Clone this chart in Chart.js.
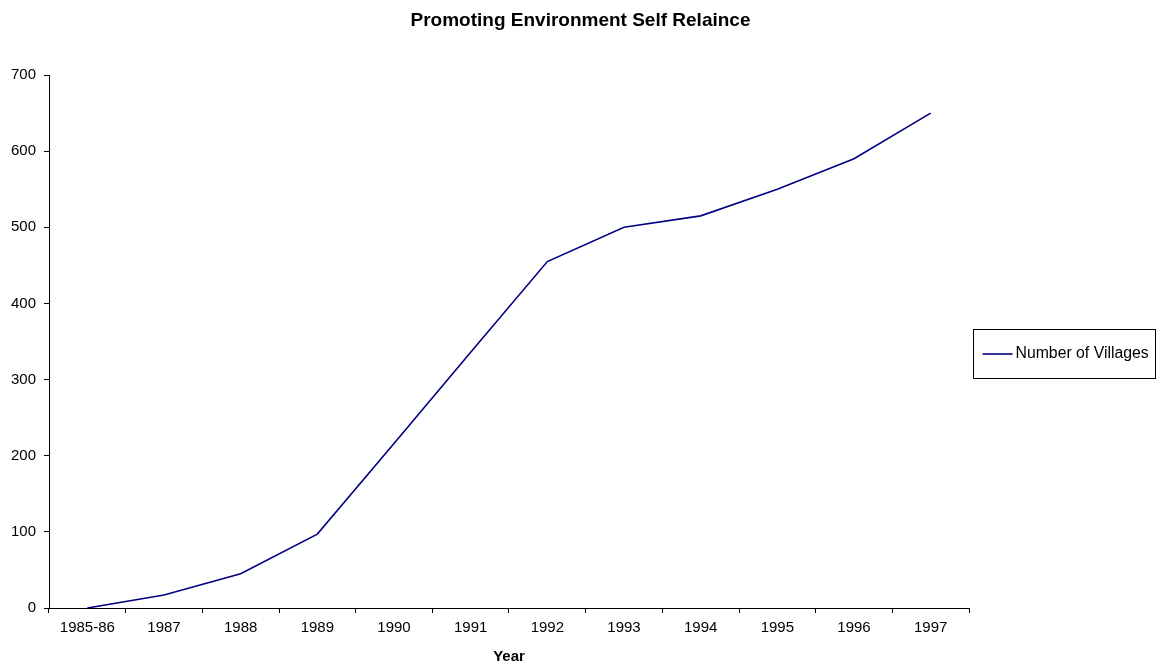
<!DOCTYPE html>
<html>
<head>
<meta charset="utf-8">
<script src="https://cdn.jsdelivr.net/npm/chart.js@4"></script>
<style>
  html, body { margin: 0; padding: 0; background: #fff; }
  #wrap { width: 1161px; height: 666px; position: relative; }
</style>
</head>
<body>
<div id="wrap"><canvas id="c" width="1161" height="666"></canvas></div>
<script>
const chartTitle = 'Promoting Environment Self Relaince';
const xAxisTitle = 'Year';
const categories = ['1985-86', '1987', '1988', '1989', '1990', '1991', '1992', '1993', '1994', '1995', '1996', '1997'];
const seriesName = 'Number of Villages';
const villages = [0, 17, 45, 97, 216, 336, 455, 500, 515, 550, 590, 650];
const yTicks = [0, 100, 200, 300, 400, 500, 600, 700];

Chart.defaults.font.family = "'Liberation Sans', Arial, sans-serif";
Chart.defaults.color = '#000';

const boxLegend = {
  id: 'boxLegend',
  afterDraw(chart) {
    const ctx = chart.ctx;
    const ds = chart.data.datasets[0];
    const area = chart.chartArea;
    const x = Math.round(area.right) + 4.5;
    const y = 329.5;
    const w = 182, h = 49;
    ctx.save();
    ctx.fillStyle = '#fff';
    ctx.fillRect(x, y, w, h);
    ctx.strokeStyle = '#000';
    ctx.lineWidth = 1;
    ctx.strokeRect(x, y, w, h);
    const cy = y + h / 2;
    ctx.strokeStyle = ds.borderColor;
    ctx.lineWidth = ds.borderWidth;
    ctx.beginPath();
    ctx.moveTo(x + 9, cy);
    ctx.lineTo(x + 39, cy);
    ctx.stroke();
    ctx.fillStyle = '#000';
    ctx.font = "15.8px 'Liberation Sans', Arial, sans-serif";
    ctx.textAlign = 'left';
    ctx.textBaseline = 'middle';
    ctx.fillText(ds.label, x + 42, cy);
    ctx.restore();
  }
};

new Chart(document.getElementById('c'), {
  type: 'line',
  data: {
    labels: categories,
    datasets: [{
      label: seriesName,
      data: villages,
      borderColor: '#000080',
      backgroundColor: '#000080',
      borderWidth: 1.6,
      pointRadius: 0,
      pointHoverRadius: 0,
      tension: 0,
      fill: false
    }]
  },
  options: {
    responsive: false,
    animation: false,
    devicePixelRatio: 1,
    layout: { padding: { top: 0, left: 0, right: 0, bottom: 0 } },
    plugins: {
      legend: { display: false },
      tooltip: { enabled: false },
      title: {
        display: true,
        text: chartTitle,
        color: '#000',
        font: { size: 19, weight: 'bold' },
        padding: { top: 9, bottom: 43.2 }
      }
    },
    scales: {
      x: {
        type: 'category',
        offset: true,
        grid: {
          offset: true,
          drawOnChartArea: false,
          drawTicks: true,
          tickLength: 5,
          color: '#000'
        },
        border: { display: true, color: '#000', width: 1 },
        ticks: {
          color: '#000',
          font: { size: 15 },
          padding: 6,
          maxRotation: 0,
          autoSkip: false
        },
        title: {
          display: true,
          text: xAxisTitle,
          color: '#000',
          font: { size: 15, weight: 'bold' },
          padding: { top: 0, bottom: 0 }
        },
        afterFit(scale) { scale.height = 58; }
      },
      y: {
        type: 'linear',
        position: 'left',
        min: yTicks[0],
        max: yTicks[yTicks.length - 1],
        afterBuildTicks(scale) { scale.ticks = yTicks.map(v => ({ value: v })); },
        grid: {
          drawOnChartArea: false,
          drawTicks: true,
          tickLength: 5,
          color: '#000'
        },
        border: { display: true, color: '#000', width: 1 },
        ticks: {
          color: '#000',
          font: { size: 15 },
          padding: 8
        },
        afterFit(scale) { scale.width = 49; }
      },
      legendSpace: {
        type: 'linear',
        position: 'right',
        display: true,
        grid: { display: false, drawTicks: false },
        border: { display: false },
        ticks: { display: false },
        afterFit(scale) { scale.width = 192; }
      }
    }
  },
  plugins: [boxLegend]
});
</script>
</body>
</html>
